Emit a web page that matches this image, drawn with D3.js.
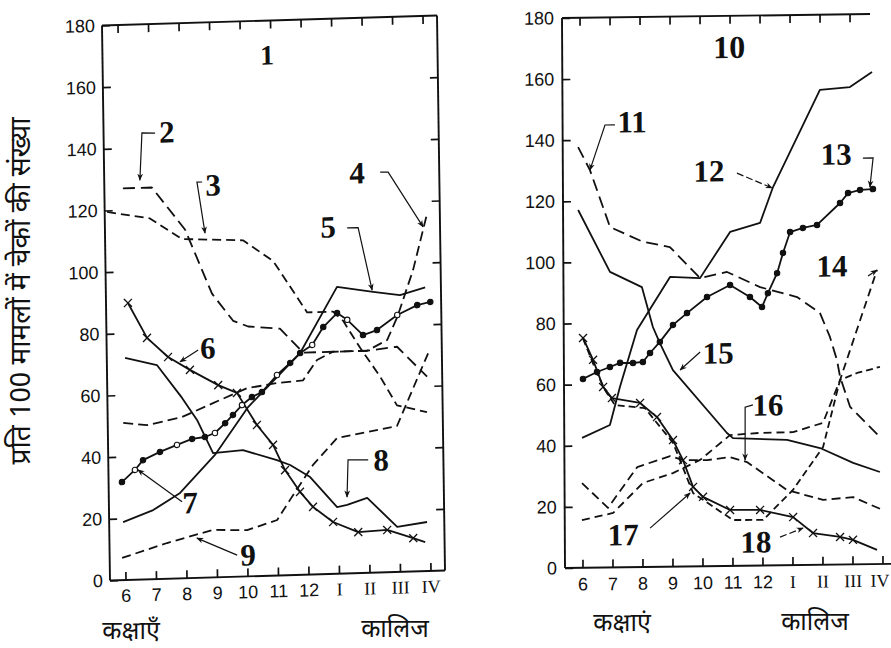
<!DOCTYPE html>
<html>
<head>
<meta charset="utf-8">
<script src="https://cdn.jsdelivr.net/npm/d3@7"></script>
<style>
  body { margin: 0; background: #fff; }
  svg { display: block; }
</style>
</head>
<body>
<svg id="chart" width="891" height="648"></svg>
<script>
// Grade categories along the x axis (school classes 6-12, college years I-IV)
const grades = ["6", "7", "8", "9", "10", "11", "12", "I", "II", "III", "IV"];
const yTicks = [0, 20, 40, 60, 80, 100, 120, 140, 160, 180];

// Panel 1 series: [grade position, checks per 100 cases]
const s2 = [[0.1,127],[1.05,127],[2.12,113],[2.97,92],[3.65,83],[4.14,81],[5.18,80],[5.93,72],[6.91,72],[8.03,72],[9.01,73],[9.98,63]];
const s3 = [[-0.43,119.5],[0.97,117],[2.01,110],[4.01,109],[4.99,102],[6.08,85],[6.93,85],[7.25,82],[7.8,73],[8.44,63.5],[8.98,54],[9.96,51.5]];
const s4 = [[0,51],[0.78,50],[1.93,52.3],[2.95,56.5],[4.07,61],[5.06,62.4],[5.91,63],[6.38,69.5],[6.91,72],[8.03,72],[8.69,75.3],[9.03,82.6],[9.57,97.7],[10.06,116]];
const s5 = [[-0.05,18.8],[0.94,22.4],[1.83,27.7],[2.99,39.7],[4.1,54.9],[5.83,71.9],[7.07,93],[8.25,91],[9.13,89.7],[9.96,92]];
const s6 = [[0.21,89.8],[0.82,78.3],[1.5,71.9],[2.21,67.5],[3.13,62.3],[3.74,59.6],[4.38,49],[4.9,42.4],[5.28,34.1],[5.76,26.9],[6.18,21.9],[6.83,16.8],[7.65,13.3],[8.6,13.7],[9.45,10.8],[9.84,9.4]];
const s7 = [[-0.07,31.8],[0.36,35.6],[0.63,38.7],[1.19,41.2],[1.75,43.3],[2.25,45.1],[2.67,45.6],[3.0,46.8],[3.34,49.9],[3.6,52.5],[3.9,55.6],[4.23,58.1],[4.56,59.6],[5.06,65],[5.5,68.8],[5.83,71.9],[6.23,74.4],[6.6,80.1],[7.06,84.5],[7.39,82.2],[7.9,77.1],[8.36,78.6],[9.03,83.3],[9.69,86.3],[10.12,87.2]];
const s8 = [[0.09,72],[1.13,69.4],[1.94,58.5],[2.42,51.2],[2.93,40.3],[3.91,41],[5.02,37.4],[5.45,35.7],[6.1,31.6],[6.97,21.6],[7.3,22.2],[7.96,24.3],[8.93,14.6],[9.91,15.9]];
const s9 = [[-0.1,7.2],[1.38,11.6],[2.89,15.4],[4.01,15],[5.0,18],[5.43,24.4],[6.2,35.5],[7.0,44],[8.97,47.3],[10.03,70.7]];

// Panel 10 series
const s11 = [[-0.07,137.7],[0.32,130.1],[0.98,111.4],[2.08,106.4],[2.97,104.6],[3.97,94.3],[4.87,96.2],[5.97,91.1],[7.2,87.7],[7.96,82.4],[8.29,74.5],[8.52,66.9],[8.62,61.4],[8.95,51.5],[9.94,41.5]];
const s12 = [[0.01,42.5],[0.94,46.6],[1.28,59],[1.86,77.6],[2.97,94.8],[3.97,94.3],[4.98,109.3],[5.98,112.1],[6.42,123.8],[8.0,155.4],[9.0,156.2],[9.74,161]];
const s13 = [[0.05,61.8],[0.52,64],[0.95,65.6],[1.29,66.9],[1.72,66.8],[2.05,67.1],[2.29,70],[2.62,73.6],[3.06,79.1],[3.53,82.9],[4.2,88.1],[4.97,91.9],[5.63,87.9],[6.03,84.6],[6.23,89.1],[6.54,95.6],[6.74,102.2],[6.98,109],[7.41,110.3],[7.88,111.2],[8.65,118.3],[8.92,121.5],[9.32,122.5],[9.75,122.7]];
const s14 = [[-0.01,15.6],[1.03,17.8],[2.03,27.5],[3.03,30.6],[3.94,34.8],[4.94,42.8],[5.94,43.4],[7.04,43.5],[8.04,46.4],[8.62,60.4],[9.3,79.9],[9.87,96.2]];
const s15 = [[-0.08,117.1],[0.97,96.7],[2.03,91.6],[2.39,78.5],[2.62,73.2],[3.05,64.3],[4.84,43.5],[5.04,41.8],[6.84,41],[7.94,38.2],[9.04,33.2],[9.93,30.1]];
const s16 = [[0,27.7],[0.86,19.5],[1.84,32.7],[2.94,36.2],[3.37,34.8],[4.17,34.7],[4.94,35.6],[5.5,33.9],[6.83,24.6],[8.03,21.2],[9.03,22],[10.03,17.6]];
const s17 = [[0.06,75],[0.5,64],[0.78,58.1],[1.11,53.1],[2.11,52],[3.04,40.5],[3.7,24],[5.02,15],[6.03,14.9],[7.03,24.6],[8.04,38.5],[8.62,60.4],[9.19,62.6],[9.95,64.5]];
const s18 = [[0.06,75.2],[0.39,68],[0.72,59.1],[1.01,55.4],[1.95,53.7],[2.51,49],[3.04,41.4],[3.37,34.8],[3.7,26],[4.03,22.7],[4.93,18.3],[5.93,18.2],[7.03,15.7],[7.69,10.4],[8.59,9],[9.02,8],[9.82,4.6]];

// Curve numbers: label anchor and leader line, in [grade position, value]
const notes1 = [
  { text: "2", at: [1.57,144.8], leader: [[1.18,144.6],[0.75,144.8],[0.66,129.5]] },
  { text: "3", at: [3.06,127.2], leader: [[2.7,128.3],[2.53,128.3],[2.77,111.7]] },
  { text: "4", at: [7.78,129.7], leader: [[8.54,129.8],[8.8,129.7],[9.92,111.6]] },
  { text: "5", at: [6.81,112.5], leader: [[7.43,112],[7.79,112],[8.22,91.6]] },
  { text: "6", at: [2.81,74.4],  leader: [[2.49,73.9],[1.89,70.2]] },
  { text: "7", at: [2.15,24.4],  leader: [[1.89,24.8],[0.46,35.6]] },
  { text: "8", at: [8.43,36.4],  leader: [[8.01,36.6],[7.35,36.8],[7.3,24.8]] },
  { text: "9", at: [4.03,6.9],   leader: [[3.67,7],[2.36,12.9]] }
];
const notes2 = [
  { text: "11", at: [1.73,145.7], leader: [[1.16,144.8],[0.83,144.8],[0.32,130.1]] },
  { text: "12", at: [4.29,129.3], leader: [[5.22,128.5],[6.39,123.5]], dashed: true },
  { text: "13", at: [8.53,134.3], leader: [[9.42,132.9],[9.76,132.9],[9.65,123.4]] },
  { text: "14", at: [8.37,97.7],  leader: [[9.57,94.3],[9.87,96.2]] },
  { text: "15", at: [4.56,69.7],  leader: [[3.96,70.1],[3.29,64.3]] },
  { text: "16", at: [6.21,52.5],  leader: [[5.71,52.6],[5.45,51.9],[5.44,34.6]] },
  { text: "17", at: [1.36,10.6],  leader: [[2.26,12.7],[3.6,24]] },
  { text: "18", at: [5.79,7.7],   leader: [[6.59,9.2],[7.36,12.1]], dashed: true }
];

const svg = d3.select("#chart");

svg.append("defs").append("marker")
  .attr("id", "tip")
  .attr("viewBox", "0 0 10 10")
  .attr("refX", 9).attr("refY", 5)
  .attr("markerWidth", 6).attr("markerHeight", 6)
  .attr("orient", "auto")
  .append("path").attr("d", "M0,1 L10,5 L0,9 L3,5 z").attr("fill", "#111");

const serif = "'Liberation Serif', 'Times New Roman', serif";
const sans = "'Liberation Sans', Arial, sans-serif";
const deva = "'Noto Sans Devanagari', 'Lohit Devanagari', 'Noto Serif Devanagari', Mangal, sans-serif";

function drawPanel(p) {
  const g = svg.append("g").attr("transform", `matrix(${p.matrix.join(",")})`);
  const x = d3.scaleLinear().domain([0, 10]).range(p.xRange);
  const y = d3.scaleLinear().domain([0, 180]).range([p.height, 0]);

  // frame
  const frame = g.append("g").attr("stroke", "#111").attr("stroke-width", 1.9).attr("fill", "none");
  frame.append("line").attr("x1", 0).attr("y1", 0).attr("x2", 0).attr("y2", p.height);
  frame.append("line").attr("x1", 0).attr("y1", p.height).attr("x2", p.bottomEnd).attr("y2", p.height);
  frame.append("line").attr("x1", 0).attr("y1", 0).attr("x2", p.topEnd).attr("y2", 0);
  if (p.rightBorder) frame.append("line").attr("x1", p.width).attr("y1", 0).attr("x2", p.width).attr("y2", p.height);

  const styleAxis = (sel, family, size) => {
    sel.select(".domain").remove();
    sel.attr("font-family", family).attr("font-size", size);
    sel.selectAll(".tick line").attr("stroke", "#111").attr("stroke-width", 1.7);
    sel.selectAll(".tick text").attr("fill", "#111");
  };

  // left axis with inward ticks
  g.append("g")
    .call(d3.axisLeft(y).tickValues(yTicks).tickSize(-8).tickSizeOuter(0).tickPadding(p.yPad))
    .call(s => styleAxis(s, sans, 18));

  // bottom axis: grades
  const bx = g.append("g").attr("transform", `translate(0,${p.height})`)
    .call(d3.axisBottom(x).tickValues(d3.range(grades.length)).tickFormat(i => grades[i])
      .tickSize(-8).tickSizeOuter(0).tickPadding(p.xPad))
    .call(s => styleAxis(s, sans, 18));
  bx.selectAll(".tick text")
    .attr("font-family", (d) => d >= 7 ? serif : sans)
    .attr("font-size", (d) => d >= 7 ? 18 : 18)
    .attr("dx", (d) => (p.lastShift && d === grades.length - 1) ? p.lastShift : null);

  // top ticks
  g.append("g")
    .call(d3.axisTop(x).tickValues(d3.range(grades.length).filter(i => x(i) < p.topEnd - 4))
      .tickSize(-8).tickSizeOuter(0).tickFormat(""))
    .call(s => styleAxis(s, sans, 10));

  if (p.rightBorder) {
    g.append("g").attr("transform", `translate(${p.width},0)`)
      .call(d3.axisRight(y).tickValues(yTicks.slice(1, -1)).tickSize(-8).tickSizeOuter(0).tickFormat(""))
      .call(s => styleAxis(s, sans, 10));
  }

  const line = d3.line().x(d => x(d[0])).y(d => y(d[1]));

  const plot = g.append("g");
  p.series.forEach(s => {
    plot.append("path")
      .datum(s.data)
      .attr("d", line)
      .attr("fill", "none")
      .attr("stroke", "#111")
      .attr("stroke-width", 1.8)
      .attr("stroke-linejoin", "round")
      .attr("stroke-dasharray", s.dash || null);
    if (s.mark === "dot") {
      plot.append("g").selectAll("circle").data(s.data).join("circle")
        .attr("cx", d => x(d[0])).attr("cy", d => y(d[1]))
        .attr("r", 2.7)
        .attr("fill", (d, i) => (s.open && i % 3 === 1) ? "#fff" : "#111")
        .attr("stroke", "#111").attr("stroke-width", 1.1);
    } else if (s.mark === "cross") {
      plot.append("g").selectAll("path").data(s.data.slice(0, -1)).join("path")
        .attr("transform", d => `translate(${x(d[0])},${y(d[1])})`)
        .attr("d", "M-4,-4L4,4M-4,4L4,-4")
        .attr("stroke", "#111").attr("stroke-width", 1.3);
    }
  });

  // title number
  g.append("text")
    .attr("x", x(p.title.at[0])).attr("y", y(p.title.at[1]))
    .attr("text-anchor", "middle").attr("dominant-baseline", "central")
    .attr("font-family", serif).attr("font-weight", "bold").attr("font-size", p.title.size)
    .attr("fill", "#111").text(p.title.text);

  // curve numbers with leaders
  const notes = g.append("g");
  p.notes.forEach(n => {
    notes.append("path")
      .datum(n.leader)
      .attr("d", line)
      .attr("fill", "none").attr("stroke", "#111").attr("stroke-width", 1.2)
      .attr("stroke-dasharray", n.dashed ? "7,3" : null)
      .attr("marker-end", "url(#tip)");
    notes.append("text")
      .attr("x", x(n.at[0])).attr("y", y(n.at[1]))
      .attr("text-anchor", "middle").attr("dominant-baseline", "central")
      .attr("font-family", serif).attr("font-weight", "bold").attr("font-size", 31)
      .attr("fill", "#111").text(n.text);
  });
}

drawPanel({
  matrix: [1, -0.02985, 0.01441, 1, 102, 25.5],
  width: 335, height: 555, xRange: [15.5, 320.5],
  bottomEnd: 335, topEnd: 335, rightBorder: true,
  yPad: 7, xPad: 9,
  title: { text: "1", at: [4.89, 168.8], size: 28 },
  notes: notes1,
  series: [
    { data: s2, dash: "12,6" },
    { data: s3, dash: "9,5" },
    { data: s4, dash: "10,5" },
    { data: s5 },
    { data: s6, mark: "cross" },
    { data: s7, mark: "dot", open: true },
    { data: s8 },
    { data: s9, dash: "9,5" }
  ]
});

drawPanel({
  matrix: [1, -0.0128, 0.00545, 1, 562, 18],
  width: 330, height: 550, xRange: [17.5, 317.5],
  bottomEnd: 327, topEnd: 308, rightBorder: false,
  yPad: 8, xPad: 10, lastShift: -3,
  title: { text: "10", at: [4.98, 169.8], size: 32 },
  notes: notes2,
  series: [
    { data: s11, dash: "12,6" },
    { data: s12 },
    { data: s13, mark: "dot" },
    { data: s14, dash: "8,5" },
    { data: s15 },
    { data: s16, dash: "9,5" },
    { data: s17, dash: "7,4" },
    { data: s18, mark: "cross" }
  ]
});

// axis captions
svg.append("text")
  .attr("transform", "translate(23,291) rotate(-90)")
  .attr("text-anchor", "middle").attr("dominant-baseline", "central")
  .attr("font-family", deva).attr("font-size", 28).attr("fill", "#111")
  .text("प्रति 100 मामलों में चेकों की संख्या");

const captions = [
  { text: "कक्षाएँ", x: 131, y: 633 },
  { text: "कालिज", x: 395, y: 631 },
  { text: "कक्षाएं", x: 622, y: 625 },
  { text: "कालिज", x: 815, y: 624 }
];
svg.append("g").selectAll("text").data(captions).join("text")
  .attr("x", d => d.x).attr("y", d => d.y)
  .attr("text-anchor", "middle").attr("dominant-baseline", "central")
  .attr("font-family", deva).attr("font-size", 25).attr("fill", "#111")
  .text(d => d.text);
</script>
</body>
</html>
